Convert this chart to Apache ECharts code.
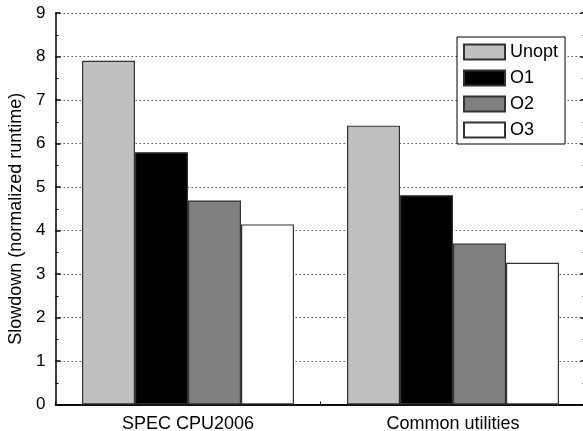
<!DOCTYPE html>
<html>
<head>
<meta charset="utf-8">
<script src="https://cdn.jsdelivr.net/npm/echarts@6/dist/echarts.min.js"></script>
<style>html,body{margin:0;padding:0;background:#fff;}#c{width:583px;height:431px;}</style>
</head>
<body>
<div id="c"></div>
<script>
const categories = ['SPEC CPU2006', 'Common utilities'];
const seriesNames = ['Unopt', 'O1', 'O2', 'O3'];
const unopt = [7.90, 6.41];
const o1 = [5.80, 4.81];
const o2 = [4.69, 3.70];
const o3 = [4.14, 3.26];
const yTicks = [0, 1, 2, 3, 4, 5, 6, 7, 8, 9];

const values = [unopt, o1, o2, o3];
const fills = ['#c0c0c0', '#000000', '#808080', '#ffffff'];
const font = 'Liberation Sans, Arial, sans-serif';

const chart = echarts.init(document.getElementById('c'), null, {renderer: 'canvas'});
const yBase = {
  type: 'value', min: yTicks[0], max: yTicks[yTicks.length - 1], interval: 1,
  axisLine: {show: true, lineStyle: {color: '#000', width: 1.5}},
  axisTick: {show: true, inside: true, length: 5, lineStyle: {color: '#000', width: 1.5}},
  minorTick: {show: true, splitNumber: 2, length: 3, lineStyle: {color: '#000', width: 1}}
};
chart.setOption({
  animation: false,
  backgroundColor: '#fff',
  textStyle: {fontFamily: font},
  grid: {left: 55.5, top: 13, width: 530, height: 391.5, containLabel: false, outerBoundsMode: 'none'},
  legend: {
    orient: 'vertical', left: 457, top: 37,
    data: seriesNames,
    borderColor: '#000', borderWidth: 1, backgroundColor: '#fff',
    padding: [6, 7, 5, 6],
    itemWidth: 41, itemHeight: 15, itemGap: 8,
    textStyle: {fontSize: 18, color: '#000', fontFamily: font},
    icon: 'rect'
  },
  xAxis: [{
    type: 'category', data: categories, position: 'bottom',
    axisLine: {show: true, lineStyle: {color: '#000', width: 1.5}},
    axisTick: {show: true, inside: true, length: 3, lineStyle: {color: '#000'}},
    axisLabel: {fontSize: 18, color: '#000', margin: 11, fontFamily: font}
  }, {
    type: 'category', data: categories, position: 'top',
    axisLine: {show: true, lineStyle: {color: '#000', width: 1.5}},
    axisTick: {show: false}, axisLabel: {show: false}
  }],
  yAxis: [Object.assign({}, yBase, {
    position: 'left',
    name: 'Slowdown (normalized runtime)', nameLocation: 'middle', nameGap: 30,
    nameTextStyle: {fontSize: 18, color: '#000', fontFamily: font, padding: [0, 20, 0, 0]},
    axisLabel: {fontSize: 17, color: '#000', margin: 10, fontFamily: font},
    splitLine: {show: true, lineStyle: {color: '#555', type: [1.5, 2.5], width: 1}}
  }), Object.assign({}, yBase, {
    position: 'right', axisLabel: {show: false}, splitLine: {show: false}
  })],
  series: seriesNames.map((n, i) => ({
    name: n, type: 'bar', data: values[i],
    barGap: '0%', barCategoryGap: '20%',
    itemStyle: {color: fills[i], borderColor: '#333', borderWidth: 1.2}
  }))
});
</script>
</body>
</html>
